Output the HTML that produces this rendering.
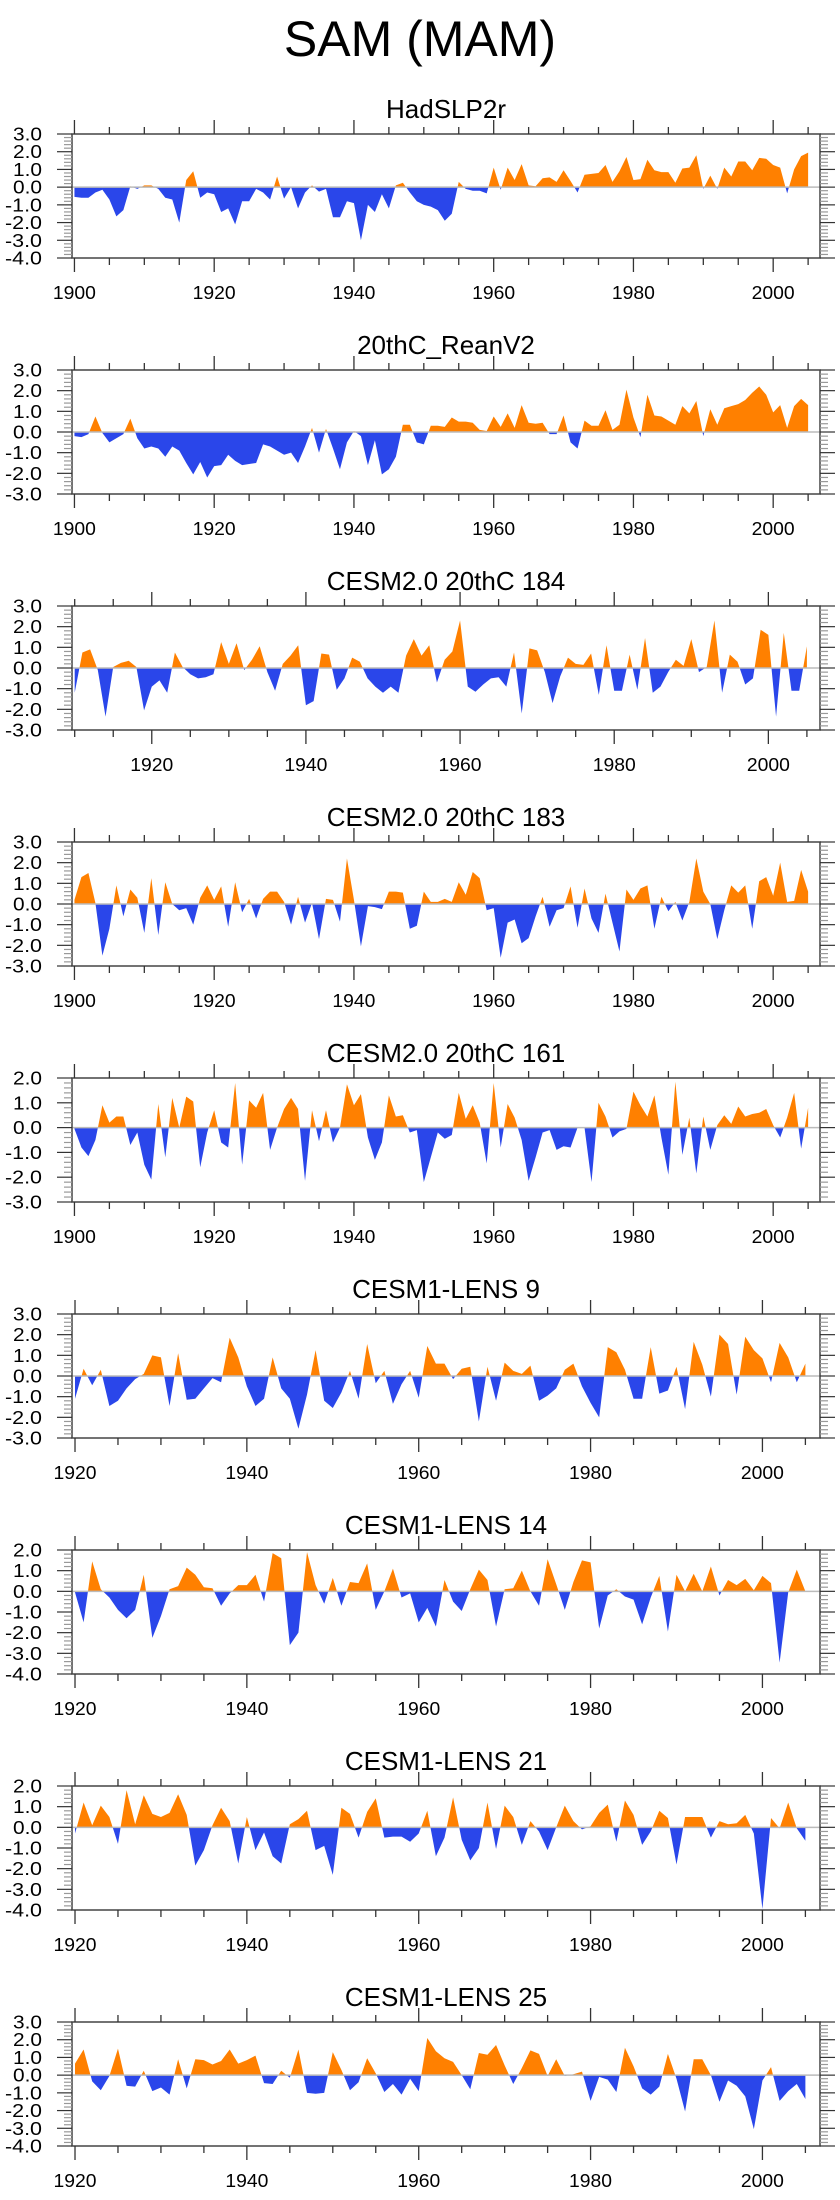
<!DOCTYPE html>
<html><head><meta charset="utf-8">
<style>
body{margin:0;background:#fff;}
svg{display:block;font-family:"Liberation Sans",Arial,sans-serif;}
</style></head>
<body>
<svg id="chart" width="840" height="2200" viewBox="0 0 840 2200" xmlns="http://www.w3.org/2000/svg">
<rect width="840" height="2200" fill="#fff"/>
<text x="420" y="56" font-size="50" text-anchor="middle">SAM (MAM)</text>
</svg>
<script>
const titles = ["HadSLP2r","20thC_ReanV2","CESM2.0 20thC 184","CESM2.0 20thC 183","CESM2.0 20thC 161","CESM1-LENS 9","CESM1-LENS 14","CESM1-LENS 21","CESM1-LENS 25"];
const startYears = [1900,1900,1910,1900,1900,1920,1920,1920,1920];
const yMaxs = [3,3,3,3,2,3,2,2,3];
const yMins = [-4,-3,-3,-3,-3,-3,-4,-4,-4];
const s1 = [-0.55,-0.6,-0.6,-0.3,-0.15,-0.7,-1.65,-1.3,0.05,-0.1,0.1,0.1,-0.1,-0.6,-0.7,-2.0,0.4,0.9,-0.6,-0.3,-0.4,-1.4,-1.2,-2.1,-0.8,-0.8,-0.1,-0.3,-0.7,0.6,-0.65,0,-1.2,-0.3,0.1,-0.25,-0.1,-1.7,-1.7,-0.8,-0.9,-3.0,-1.0,-1.4,-0.4,-1.2,0.1,0.25,-0.3,-0.8,-1.0,-1.1,-1.3,-1.9,-1.5,0.3,-0.1,-0.2,-0.2,-0.35,1.1,-0.15,1.1,0.4,1.3,0.1,0.05,0.5,0.55,0.3,0.95,0.35,-0.3,0.7,0.75,0.8,1.25,0.3,0.9,1.7,0.4,0.45,1.55,0.95,0.85,0.85,0.25,1.05,1.1,1.8,-0.1,0.65,-0.1,1.1,0.6,1.45,1.45,0.95,1.65,1.6,1.25,1.1,-0.35,1.0,1.75,1.95];
const s2 = [-0.2,-0.25,-0.1,0.75,-0.05,-0.5,-0.3,-0.1,0.65,-0.3,-0.8,-0.7,-0.8,-1.2,-0.7,-0.9,-1.5,-2.05,-1.45,-2.2,-1.65,-1.6,-1.1,-1.4,-1.6,-1.55,-1.5,-0.6,-0.7,-0.9,-1.1,-1.0,-1.5,-0.7,0.2,-1.0,0.15,-0.8,-1.8,-0.5,0.05,-0.2,-1.6,-0.4,-2.05,-1.8,-1.2,0.35,0.35,-0.5,-0.6,0.3,0.3,0.25,0.7,0.5,0.5,0.45,0.1,0.05,0.75,0.25,0.9,0.2,1.3,0.45,0.4,0.45,-0.1,-0.1,0.8,-0.5,-0.8,0.55,0.3,0.3,1.05,0.1,0.35,2.05,0.7,-0.25,1.8,0.8,0.75,0.55,0.35,1.25,0.9,1.5,-0.2,1.1,0.35,1.15,1.25,1.35,1.55,1.9,2.2,1.8,0.95,1.3,0.2,1.25,1.6,1.3];
const s3 = [-1.2,0.75,0.9,-0.1,-2.35,0.05,0.25,0.35,0.05,-2.05,-0.9,-0.6,-1.2,0.75,0.05,-0.3,-0.5,-0.45,-0.3,1.25,0.2,1.2,-0.1,0.4,1.05,-0.2,-1.1,0.2,0.6,1.1,-1.8,-1.6,0.7,0.65,-1.05,-0.5,0.5,0.3,-0.5,-0.9,-1.2,-0.9,-1.2,0.6,1.4,0.6,1.1,-0.7,0.4,0.8,2.3,-0.9,-1.15,-0.8,-0.5,-0.45,-0.9,0.75,-2.2,0.95,0.85,-0.2,-1.7,-0.4,0.5,0.2,0.15,0.7,-1.3,1.1,-1.1,-1.1,0.65,-1.05,1.45,-1.2,-0.9,-0.2,0.4,0.1,1.4,-0.2,0.05,2.3,-1.2,0.65,0.3,-0.8,-0.5,1.85,1.6,-2.35,1.7,-1.1,-1.1,1.05];
const s4 = [0.2,1.3,1.5,0.05,-2.5,-1.2,0.9,-0.6,0.7,0.3,-1.4,1.25,-1.5,1.05,0.0,-0.3,-0.2,-1.0,0.3,0.9,0.2,0.85,-1.1,1.05,-0.4,0.25,-0.7,0.25,0.6,0.6,0.1,-1.0,0.35,-0.9,0.05,-1.7,0.25,0.2,-0.85,2.2,0.2,-2.05,-0.1,-0.15,-0.25,0.6,0.6,0.55,-1.2,-1.05,0.6,0.1,0.1,0.25,0.1,1.05,0.45,1.55,1.25,-0.3,-0.2,-2.6,-0.9,-0.75,-1.9,-1.65,-0.6,0.35,-1.1,-0.3,-0.2,0.85,-1.15,0.75,-0.7,-1.4,0.5,-0.9,-2.3,0.7,0.2,0.75,0.9,-1.2,0.35,-0.35,0.1,-0.8,0.1,2.2,0.6,0.0,-1.7,-0.3,0.9,0.55,0.9,-1.2,1.1,1.3,0.4,2.0,0.1,0.15,1.65,0.6];
const s5 = [-0.05,-0.8,-1.15,-0.5,0.9,0.2,0.45,0.45,-0.7,-0.2,-1.5,-2.1,0.95,-1.2,1.2,0.0,1.25,1.05,-1.6,-0.2,0.7,-0.6,-0.8,1.8,-1.5,1.1,0.8,1.4,-0.9,0.0,0.75,1.2,0.75,-2.15,0.7,-0.55,0.7,-0.6,0.0,1.75,0.9,1.35,-0.4,-1.3,-0.6,1.3,0.45,0.5,-0.2,-0.1,-2.2,-1.2,-0.2,-0.45,-0.3,1.4,0.35,0.9,0.2,-1.45,1.8,-0.8,0.95,0.4,-0.5,-2.15,-1.2,-0.2,-0.1,-0.9,-0.75,-0.8,0.0,0.0,-2.2,1.0,0.45,-0.4,-0.15,-0.05,1.45,0.9,0.45,1.3,-0.4,-1.9,1.85,-1.1,0.4,-1.85,0.45,-0.9,0.1,0.5,0.15,0.85,0.45,0.55,0.6,0.75,0.1,-0.4,0.4,1.4,-0.85,0.8];
const s6 = [-1.1,0.35,-0.45,0.3,-1.45,-1.2,-0.6,-0.15,0.1,1.0,0.9,-1.45,1.1,-1.15,-1.1,-0.6,-0.1,-0.3,1.85,0.9,-0.5,-1.45,-1.1,0.9,-0.6,-1.1,-2.55,-0.9,1.25,-1.2,-1.55,-0.8,0.25,-1.1,1.55,-0.35,0.25,-1.35,-0.4,0.25,-1.05,1.45,0.6,0.6,-0.15,0.35,0.45,-2.2,0.45,-1.2,0.65,0.25,0.1,0.5,-1.2,-0.95,-0.6,0.3,0.6,-0.5,-1.3,-2.0,1.4,1.15,0.3,-1.1,-1.1,1.4,-0.85,-0.7,0.45,-1.6,1.65,0.55,-1.0,2.0,1.55,-0.9,1.9,1.25,0.85,-0.3,1.6,0.9,-0.3,0.6];
const s7 = [-0.05,-1.5,1.45,0.1,-0.3,-0.9,-1.3,-0.9,0.8,-2.25,-1.2,0.1,0.25,1.15,0.8,0.2,0.15,-0.7,-0.1,0.3,0.3,0.8,-0.5,1.85,1.6,-2.6,-2.0,1.9,0.3,-0.6,0.65,-0.7,0.45,0.4,1.35,-0.9,0.0,1.1,-0.3,-0.1,-1.5,-0.8,-1.7,0.55,-0.5,-0.95,0.1,1.05,0.55,-1.7,0.1,0.15,1.0,0.0,-0.7,1.55,0.35,-0.9,0.45,1.5,1.4,-1.8,-0.2,0.1,-0.25,-0.4,-1.6,-0.3,0.75,-1.95,0.8,0.0,0.85,0.0,1.2,-0.2,0.55,0.3,0.6,0.05,0.75,0.4,-3.45,-0.05,1.05,0.0];
const s8 = [-0.3,1.2,0.1,1.05,0.5,-0.8,1.8,0.15,1.55,0.65,0.5,0.7,1.6,0.6,-1.85,-1.1,0.1,0.95,0.3,-1.75,0.5,-1.1,-0.25,-1.4,-1.75,0.15,0.4,0.8,-1.1,-0.9,-2.3,0.95,0.65,-0.5,0.75,1.4,-0.5,-0.45,-0.45,-0.7,-0.3,0.8,-1.4,-0.5,1.45,-0.6,-1.6,-1.0,1.2,-1.05,1.05,0.5,-0.85,0.3,-0.2,-1.1,0.0,1.05,0.3,-0.1,0.05,0.7,1.1,-0.7,1.3,0.6,-0.85,-0.2,0.8,0.45,-1.8,0.5,0.5,0.5,-0.5,0.3,0.15,0.2,0.6,-0.3,-3.95,0.45,-0.05,1.2,-0.05,-0.65];
const s9 = [0.65,1.45,-0.35,-0.85,-0.05,1.5,-0.6,-0.65,0.25,-0.9,-0.7,-1.1,0.9,-0.75,0.9,0.85,0.6,0.8,1.45,0.65,0.85,1.1,-0.45,-0.5,0.25,-0.15,1.45,-1.0,-1.05,-1.0,1.3,0.3,-0.85,-0.4,0.95,0.1,-0.95,-0.5,-1.1,-0.2,-0.9,2.1,1.35,0.95,0.75,0.0,-0.8,1.25,1.15,1.7,0.55,-0.5,0.4,1.4,1.2,-0.05,0.9,-0.05,0.05,0.2,-1.45,-0.1,-0.25,-0.95,1.55,0.5,-0.75,-1.1,-0.65,1.2,-0.2,-2.05,0.9,0.9,0.0,-1.5,-0.3,-0.6,-1.2,-3.05,-0.3,0.45,-1.45,-0.9,-0.5,-1.35];
const series = [s1,s2,s3,s4,s5,s6,s7,s8,s9];

const NS = "http://www.w3.org/2000/svg";
const svg = document.getElementById('chart');
const L = 72, R = 820, H = 124, TOP0 = 134, GAP = 236, XMAX = 2006.7;
function mk(tag, attrs, parent) {
  const e = document.createElementNS(NS, tag);
  for (const k in attrs) e.setAttribute(k, attrs[k]);
  (parent || svg).appendChild(e);
  return e;
}
series.forEach((vals, p) => {
  const top = TOP0 + p * GAP, bot = top + H;
  const x0 = startYears[p] - 0.35;
  const xs = v => L + (v - x0) / (XMAX - x0) * (R - L);
  const ys = v => top + (yMaxs[p] - v) / (yMaxs[p] - yMins[p]) * H;
  const g = mk('g', {});
  
  
  const t = mk('text', {x: (L + R) / 2, y: top - 16, 'font-size': 26, 'text-anchor': 'middle'}, g);
  t.textContent = titles[p];
  
  
  const y0 = ys(0);
  let d = 'M' + xs(startYears[p]) + ',' + y0;
  vals.forEach((v, i) => { d += 'L' + xs(startYears[p] + i).toFixed(2) + ',' + ys(v).toFixed(2); });
  d += 'L' + xs(startYears[p] + vals.length - 1) + ',' + y0 + 'Z';
  const cpId = 'cp' + p, cnId = 'cn' + p;
  const defs = mk('defs', {}, g);
  const cp = mk('clipPath', {id: cpId}, defs);
  mk('rect', {x: L, y: top, width: R - L, height: y0 - top}, cp);
  const cn = mk('clipPath', {id: cnId}, defs);
  mk('rect', {x: L, y: y0, width: R - L, height: bot - y0}, cn);
  const pos = mk('path', {d: d, fill: '#ff8000', 'clip-path': 'url(#' + cpId + ')'}, g);
  
  
  const neg = mk('path', {d: d, fill: '#2a46ea', 'clip-path': 'url(#' + cnId + ')'}, g);
  
  
  mk('line', {x1: L, x2: R, y1: y0, y2: y0, stroke: '#bbb', 'stroke-width': 1.5}, g);
  const box = mk('rect', {x: L, y: top, width: R - L, height: H, fill: 'none', stroke: '#444', 'stroke-width': 1.5}, g);
  
  
  for (let yr = startYears[p]; yr <= 2006; yr += 5) {
    const isMaj = yr % 20 === 0;
    const len = isMaj ? 14 : 7;
    const x = xs(yr);
    mk('line', {x1: x, x2: x, y1: bot, y2: bot + len, stroke: '#333', 'stroke-width': 1.3}, g);
    mk('line', {x1: x, x2: x, y1: top, y2: top - len, stroke: '#333', 'stroke-width': 1.3}, g);
    if (isMaj) {
      const lb = mk('text', {x: x, y: bot + 41, 'font-size': 18, 'text-anchor': 'middle', textLength: 43, lengthAdjust: 'spacingAndGlyphs'}, g);
      lb.textContent = yr;
      
      
    }
  }
  for (let k = Math.round(yMins[p] * 5); k <= Math.round(yMaxs[p] * 5); k++) {
    const v = k / 5, y = ys(v), isMaj = k % 5 === 0;
    const len = isMaj ? 15 : 8;
    const col = isMaj ? '#333' : '#999';
    mk('line', {x1: L - len, x2: L, y1: y, y2: y, stroke: col, 'stroke-width': 1.2}, g);
    mk('line', {x1: R, x2: R + len, y1: y, y2: y, stroke: col, 'stroke-width': 1.2}, g);
    if (isMaj) {
      const txt = v.toFixed(1);
      const lb = mk('text', {x: 42, y: y + 6.5, 'font-size': 18, 'text-anchor': 'end', textLength: txt.length > 3 ? 37 : 29, lengthAdjust: 'spacingAndGlyphs'}, g);
      lb.textContent = txt;
      
      
    }
  }
});
</script>
</body></html>
